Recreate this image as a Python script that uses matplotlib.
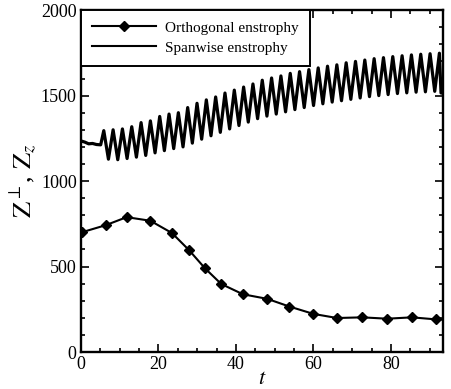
import numpy as np
import matplotlib
matplotlib.use("Agg")
import matplotlib.pyplot as plt
from matplotlib.ticker import MultipleLocator

plt.rcParams['font.family'] = ['Liberation Serif', 'DejaVu Serif']
plt.rcParams['mathtext.fontset'] = 'stix'

# Orthogonal enstrophy, sampled at the marker times
t_orth = [0.3, 6.4, 11.8, 17.9, 23.5, 27.9, 32.0, 36.2, 41.8, 48.1,
          53.8, 60.0, 66.1, 72.6, 79.0, 85.4, 91.6, 93.3]
z_orth = [701, 742, 789, 768, 696, 596, 490, 398, 338, 311,
          266, 223, 199, 203, 195, 203, 191, 190]

# Spanwise enstrophy: quiet start, then alternating peaks and troughs
t_start = [0.0, 1.0, 2.0, 3.0, 4.0, 5.1]
z_start = [1235, 1228, 1218, 1220, 1214, 1212]

z_peaks = [1295, 1300, 1305, 1318, 1342, 1352, 1378, 1392, 1400, 1430,
           1455, 1475, 1492, 1515, 1532, 1550, 1568, 1590, 1603, 1615,
           1630, 1640, 1652, 1662, 1672, 1680, 1692, 1700, 1708, 1716,
           1722, 1728, 1733, 1738, 1742, 1745, 1748]
z_troughs = [1128, 1125, 1132, 1140, 1150, 1165, 1178, 1190, 1200, 1222,
             1245, 1265, 1285, 1305, 1325, 1345, 1365, 1380, 1392, 1405,
             1418, 1430, 1442, 1452, 1462, 1470, 1478, 1486, 1494, 1500,
             1506, 1512, 1516, 1520, 1522, 1525]

t_end = [92.9, 93.4]
z_end = [1515, 1515]

# peak/trough sampling: first peak at t=5.9, half-period 1.2025
t_osc = 5.9 + 1.2025 * np.arange(len(z_peaks) + len(z_troughs))
z_osc = np.empty(len(t_osc))
z_osc[0::2] = z_peaks
z_osc[1::2] = z_troughs

t_span = np.concatenate([t_start, t_osc, t_end])
z_span = np.concatenate([z_start, z_osc, z_end])

fig = plt.figure(figsize=(4.52, 3.89), dpi=100)
ax = fig.add_axes([0.179, 0.095, 0.801, 0.879])

ax.plot(t_orth, z_orth, color='black', lw=1.5, marker='D', ms=5,
        mfc='black', mec='black', markevery=list(range(len(t_orth) - 1)),
        solid_joinstyle='round', label='Orthogonal enstrophy')
ax.plot(t_span, z_span, color='black', lw=2.3, solid_joinstyle='round',
        label='Spanwise enstrophy')

ax.set_xlim(0, 93.4)
ax.set_ylim(0, 2000)
ax.xaxis.set_major_locator(MultipleLocator(20))
ax.xaxis.set_minor_locator(MultipleLocator(5))
ax.yaxis.set_major_locator(MultipleLocator(500))
ax.yaxis.set_minor_locator(MultipleLocator(100))

ax.tick_params(which='both', direction='in', top=True, right=True,
               labelsize=13, width=1.2, pad=3)
ax.tick_params(which='major', length=6)
ax.tick_params(which='minor', length=3.2)
for s in ax.spines.values():
    s.set_linewidth(1.7)

ax.set_xlabel(r'$t$', fontsize=16, labelpad=-2)
ax.set_ylabel(r'$\mathrm{Z}^{\perp}$, $\mathrm{Z}_{z}$', fontsize=19, labelpad=1)

leg = ax.legend(loc='upper left', bbox_to_anchor=(0, 1), borderaxespad=0,
                fontsize=11, handlelength=4.2, handletextpad=0.6,
                labelspacing=0.4, borderpad=0.72, fancybox=False,
                edgecolor='black', framealpha=1)
leg.get_frame().set_linewidth(1.4)
leg.legend_handles[1].set_linewidth(1.5)

fig.savefig('out.png', dpi=100)
